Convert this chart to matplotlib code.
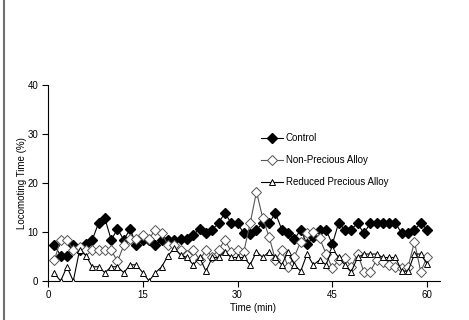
import matplotlib
matplotlib.use("Agg")
import matplotlib.pyplot as plt
from matplotlib.lines import Line2D

time_min = list(range(1, 61))

control = [7.3, 5.2, 5.2, 7.3, 6.3, 7.5, 8.4, 11.8, 12.8, 8.4,
           10.6, 8.4, 10.6, 7.3, 8.4, 8.4, 7.3, 8.4, 8.4, 8.4,
           8.5, 8.5, 9.4, 10.7, 9.7, 10.5, 11.8, 13.9, 11.8, 11.8,
           9.7, 9.5, 10.5, 11.8, 11.8, 13.9, 10.5, 9.7, 8.5, 10.5,
           7.5, 9.0, 10.5, 10.5, 7.5, 11.8, 10.5, 10.5, 11.8, 9.7,
           11.8, 11.8, 11.8, 11.8, 11.8, 9.7, 9.7, 10.5, 11.8, 10.5]

non_precious = [4.2, 8.4, 8.4, 6.3, 7.0, 6.3, 6.3, 6.3, 6.3, 6.3,
                4.0, 7.3, 8.5, 8.6, 9.3, 8.6, 10.5, 9.7, 7.3, 7.3,
                6.3, 5.3, 6.3, 4.3, 6.3, 5.0, 6.3, 8.4, 6.0, 6.3,
                6.0, 11.8, 18.2, 12.8, 9.0, 4.3, 6.3, 2.9, 5.0, 8.0,
                9.7, 10.1, 8.7, 5.6, 2.6, 4.3, 4.6, 2.9, 5.6, 1.9,
                1.9, 4.3, 3.9, 3.3, 2.9, 2.6, 2.9, 8.0, 1.9, 4.9]

reduced_precious = [1.6, 0.0, 2.9, 0.0, 6.3, 5.2, 2.9, 2.9, 1.7, 2.9,
                    2.9, 1.7, 3.3, 3.3, 1.7, 0.0, 1.7, 2.9, 5.2, 6.7,
                    5.3, 4.8, 3.3, 4.8, 2.0, 4.8, 4.8, 6.0, 4.8, 4.8,
                    4.8, 3.3, 6.0, 4.8, 6.0, 4.8, 3.3, 6.0, 3.3, 2.0,
                    5.5, 3.3, 4.3, 3.3, 6.6, 4.8, 3.3, 1.9, 4.8, 5.5,
                    5.5, 5.5, 4.8, 4.8, 4.8, 2.0, 2.0, 5.5, 5.5, 3.5]

series_names = ["Control", "Non-Precious Alloy", "Reduced Precious Alloy"]
x_ticks = [0, 15, 30, 45, 60]
y_ticks = [0, 10, 20, 30, 40]

plt.rcParams['font.family'] = ['Liberation Sans', 'DejaVu Sans']

fig = plt.figure(figsize=(4.69, 3.20), dpi=100)
ax = fig.add_axes([48/469, 1-281/320, (439.7-48)/469, (281-85)/320])

h1, = ax.plot(time_min, control, color='black', lw=0.8, marker='D', ms=4.6,
              mfc='black', mec='black', label=series_names[0], zorder=3)
h2, = ax.plot(time_min, non_precious, color='#555555', lw=0.8, marker='D', ms=4.6,
              mfc='white', mec='#555555', mew=0.7, label=series_names[1], zorder=4)
h3, = ax.plot(time_min, reduced_precious, color='black', lw=0.8, marker='^', ms=4.8,
              mfc='white', mec='black', mew=0.7, label=series_names[2], zorder=5)

ax.set_xlim(0, 62)
ax.set_ylim(0, 40)
ax.set_xticks(x_ticks)
ax.set_yticks(y_ticks)
ax.tick_params(labelsize=7, length=4, width=0.8, direction='out', pad=3)
ax.tick_params(axis='x', pad=2.5)
for s in ['top', 'right']:
    ax.spines[s].set_visible(False)
for s in ['left', 'bottom']:
    ax.spines[s].set_linewidth(0.8)

ax.set_xlabel("Time (min)", fontsize=7)
ax.set_ylabel("Locomoting Time (%)", fontsize=7)
ax.xaxis.set_label_coords(0.523, -0.14)
ax.xaxis.label.set_va('center')
ax.yaxis.set_label_coords(-0.066, 0.5)
ax.yaxis.label.set_va('center')

ax.legend(handles=[h1, h2, h3], loc='upper left', bbox_to_anchor=(0.535, 0.775),
          frameon=False, fontsize=7, handlelength=2.2, handletextpad=0.3,
          labelspacing=1.25, borderaxespad=0)

border = Line2D([3.5/469, 3.5/469], [0, 1], transform=fig.transFigure,
                color='#707070', lw=1.5)
fig.lines.append(border)

fig.savefig("out.png", dpi=100)
